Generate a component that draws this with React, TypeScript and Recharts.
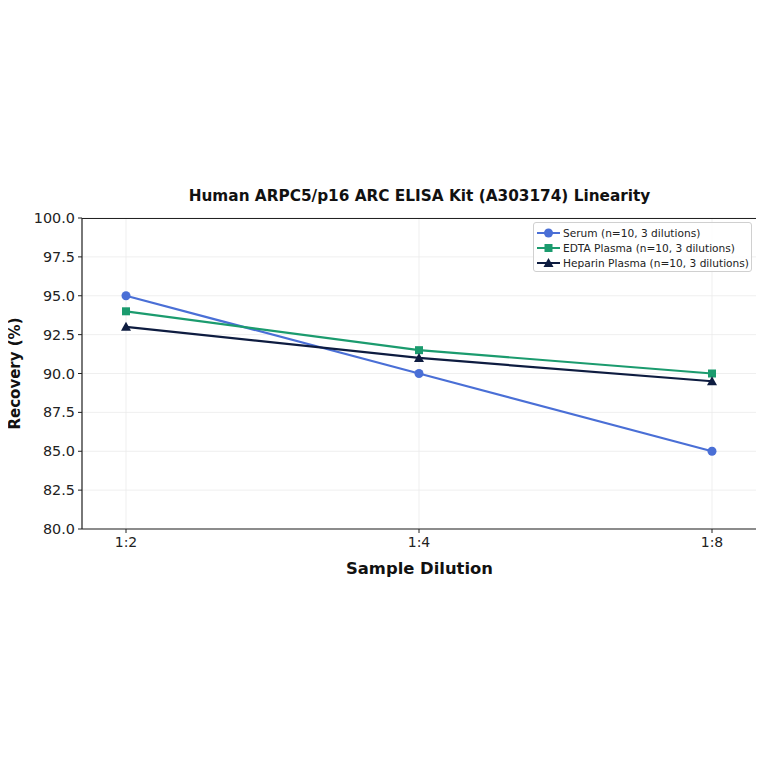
import React from 'react';
import { LineChart, Line, XAxis, YAxis, CartesianGrid, Label } from 'recharts';

const dilutions = ['1:2', '1:4', '1:8'];
const serum = [95.0, 90.0, 85.0];
const edtaPlasma = [94.0, 91.5, 90.0];
const heparinPlasma = [93.0, 91.0, 89.5];
const yTicks = [80, 82.5, 85, 87.5, 90, 92.5, 95, 97.5, 100];

const seriesInfo = [
  { key: 'serum', name: 'Serum (n=10, 3 dilutions)', color: '#4a6fd6', shape: 'circle' },
  { key: 'edta', name: 'EDTA Plasma (n=10, 3 dilutions)', color: '#1b9b6e', shape: 'square' },
  { key: 'heparin', name: 'Heparin Plasma (n=10, 3 dilutions)', color: '#0e1c40', shape: 'triangle' },
];

const data = dilutions.map((d, i) => ({
  dilution: d,
  serum: serum[i],
  edta: edtaPlasma[i],
  heparin: heparinPlasma[i],
}));

const FONT = 'DejaVu Sans, sans-serif';

const Marker = ({ cx, cy, shape, color }: any) => {
  if (cx == null || cy == null) return null;
  if (shape === 'square') return <rect x={cx - 4} y={cy - 4} width={8} height={8} fill={color} />;
  if (shape === 'triangle') return <polygon points={`${cx},${cy - 5} ${cx - 5},${cy + 4} ${cx + 5},${cy + 4}`} fill={color} />;
  return <circle cx={cx} cy={cy} r={4.5} fill={color} />;
};

const LegendBox = () => (
  <div style={{ position: 'absolute', left: 533, top: 222, width: 219, height: 50, boxSizing: 'border-box', border: '1px solid #d0d0d0', borderRadius: 3, background: 'rgba(255,255,255,0.85)', padding: '2px 3px', fontFamily: FONT, fontSize: 10.6, color: '#222' }}>
    {seriesInfo.map((s) => (
      <div key={s.key} style={{ display: 'flex', alignItems: 'center', height: 15 }}>
        <svg width={23} height={12} style={{ marginRight: 3, flexShrink: 0 }}>
          <line x1={0} y1={6} x2={23} y2={6} stroke={s.color} strokeWidth={2} />
          <Marker cx={11.5} cy={6} shape={s.shape} color={s.color} />
        </svg>
        <span style={{ whiteSpace: 'nowrap' }}>{s.name}</span>
      </div>
    ))}
  </div>
);

export default function App() {
  return (
    <div style={{ position: 'relative', width: 764, height: 600, margin: '-8px 0 0 -8px', fontFamily: FONT }}>
      <div style={{ position: 'absolute', left: 82, width: 675, top: 187, textAlign: 'center', fontWeight: 'bold', fontSize: 15.3, color: '#111', whiteSpace: 'nowrap' }}>
        Human ARPC5/p16 ARC ELISA Kit (A303174) Linearity
      </div>
      <LineChart width={764} height={600} data={data} margin={{ top: 218, right: 7, bottom: 21, left: 0 }}>
        <CartesianGrid stroke="#ebebeb" strokeWidth={0.8} />
        <XAxis
          dataKey="dilution"
          padding={{ left: 44, right: 45 }}
          height={50}
          tick={{ fontSize: 14, fill: '#222', fontFamily: FONT }}
          tickLine={{ stroke: '#222' }}
          axisLine={{ stroke: '#222', strokeWidth: 1.2 }}
          tickSize={4}
          tickMargin={4}
        >
          <Label value="Sample Dilution" position="insideBottom" offset={5} style={{ fontSize: 16.4, fontWeight: 'bold', fill: '#111', fontFamily: FONT }} />
        </XAxis>
        <YAxis
          domain={[80, 100]}
          ticks={yTicks}
          width={82}
          tickFormatter={(v: number) => v.toFixed(1)}
          tick={{ fontSize: 14.4, fill: '#222', fontFamily: FONT }}
          tickLine={{ stroke: '#222' }}
          axisLine={{ stroke: '#222', strokeWidth: 1.2 }}
          tickSize={4}
          tickMargin={3}
        >
          <Label value="Recovery (%)" angle={-90} position="insideLeft" offset={15} style={{ fontSize: 15, fontWeight: 'bold', fill: '#111', fontFamily: FONT, textAnchor: 'middle' }} />
        </YAxis>
        {seriesInfo.map((s) => (
          <Line
            key={s.key}
            dataKey={s.key}
            name={s.name}
            stroke={s.color}
            strokeWidth={2.2}
            isAnimationActive={false}
            dot={(p: any) => <Marker key={`${s.key}-${p.index}`} cx={p.cx} cy={p.cy} shape={s.shape} color={s.color} />}
            activeDot={false}
          />
        ))}
      </LineChart>
      {/* top and right spines */}
      <div style={{ position: 'absolute', left: 82, top: 218, width: 675, height: 311, border: '1.2px solid #222', borderLeft: 'none', borderBottom: 'none', boxSizing: 'border-box', pointerEvents: 'none' }} />
      <LegendBox />
    </div>
  );
}
